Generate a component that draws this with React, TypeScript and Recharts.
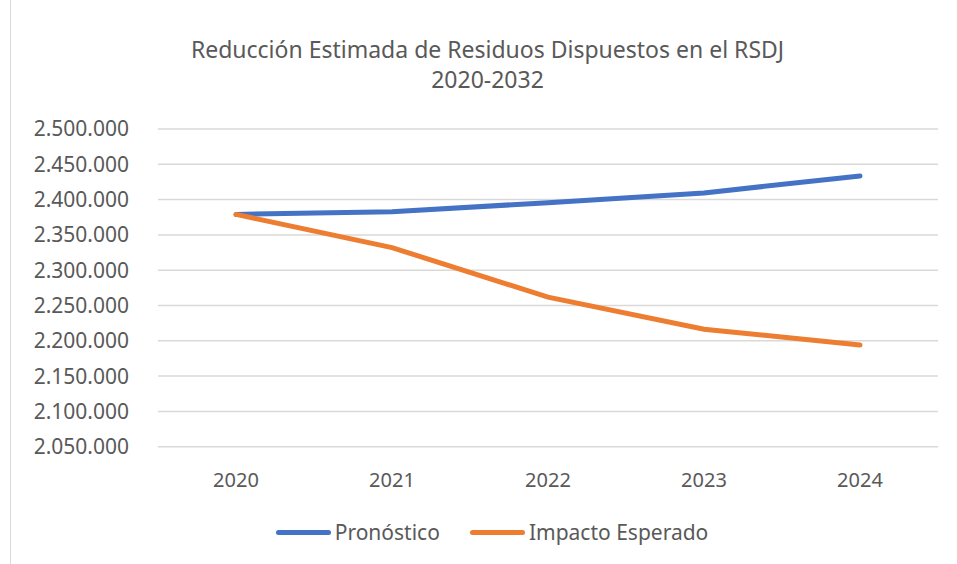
import { LineChart, Line, CartesianGrid, XAxis, YAxis, Legend } from "recharts";

const years = ["2020", "2021", "2022", "2023", "2024"];
const pronostico = [2379000, 2382700, 2395700, 2409500, 2433500];
const impactoEsperado = [2379000, 2332000, 2261800, 2216500, 2193900];
const yTicks = [2050000, 2100000, 2150000, 2200000, 2250000, 2300000, 2350000, 2400000, 2450000, 2500000];
const seriesOrder = ["pronostico", "impacto"];

const data = years.map((year, i) => ({
  year,
  pronostico: pronostico[i],
  impacto: impactoEsperado[i],
}));

const FONT = "'Noto Sans', 'Open Sans', sans-serif";
const TEXT = "#595959";
const BLUE = "#4472C4";
const ORANGE = "#ED7D31";

// miles con punto, como en el original
const fmt = (v: number) => String(v).replace(/\B(?=(\d{3})+(?!\d))/g, ".");

const YearTick = (props: any) => {
  const { x, y, payload } = props;
  return (
    <text x={x} y={y - 3} textAnchor="middle" fill={TEXT} fontSize={20} fontFamily={FONT}>
      {payload.value}
    </text>
  );
};

const LegendContent = (props: any) => {
  const items = [...(props.payload || [])].sort(
    (a: any, b: any) => seriesOrder.indexOf(a.dataKey) - seriesOrder.indexOf(b.dataKey)
  );
  return (
    <div
      style={{
        display: "flex",
        justifyContent: "center",
        paddingLeft: 46,
        height: 40,
        fontFamily: FONT,
        fontSize: 21,
        color: TEXT,
        lineHeight: "22px",
        marginTop: -12,
      }}
    >
      {items.map((item: any, i: number) => (
        <div key={i} style={{ display: "flex", alignItems: "center", marginRight: i === 0 ? 30 : 0 }}>
          <span
            style={{
              display: "inline-block",
              width: 55,
              height: 5,
              borderRadius: 3,
              background: item.color,
              marginRight: 4,
            }}
          />
          <span>{item.value}</span>
        </div>
      ))}
    </div>
  );
};

const App = () => {
  return (
    <div style={{ position: "absolute", left: 0, top: 0, width: 957, height: 564, background: "#fff" }}>
      <div style={{ position: "absolute", left: 10, top: 0, width: 1, height: 564, background: "#d9d9d9" }} />
      <div
        style={{
          position: "absolute",
          left: 10,
          top: 34,
          width: 955,
          textAlign: "center",
          fontFamily: FONT,
          fontSize: 23,
          lineHeight: "30px",
          color: TEXT,
        }}
      >
        Reducción Estimada de Residuos Dispuestos en el RSDJ
        <br />
        2020-2032
      </div>
      <LineChart width={957} height={564} data={data} margin={{ top: 129, right: 19, bottom: 0, left: 0 }}>
        <CartesianGrid vertical={false} horizontalValues={yTicks} stroke="#d9d9d9" strokeWidth={1.5} />
        <XAxis
          dataKey="year"
          axisLine={false}
          tickLine={false}
          height={42}
          padding={{ left: 78, right: 78 }}
          tick={<YearTick />}
        />
        <YAxis
          width={158}
          domain={[2000000, 2500000]}
          ticks={yTicks}
          tickFormatter={fmt}
          axisLine={false}
          tickLine={false}
          tickMargin={23}
          tick={{ fill: TEXT, fontSize: 21, fontFamily: FONT }}
        />
        <Legend verticalAlign="bottom" height={40} content={<LegendContent />} />
        <Line
          type="linear"
          dataKey="pronostico"
          name="Pronóstico"
          stroke={BLUE}
          strokeWidth={5}
          strokeLinecap="round"
          dot={false}
          isAnimationActive={false}
        />
        <Line
          type="linear"
          dataKey="impacto"
          name="Impacto Esperado"
          stroke={ORANGE}
          strokeWidth={5}
          strokeLinecap="round"
          dot={false}
          isAnimationActive={false}
        />
      </LineChart>
    </div>
  );
};

export default App;
